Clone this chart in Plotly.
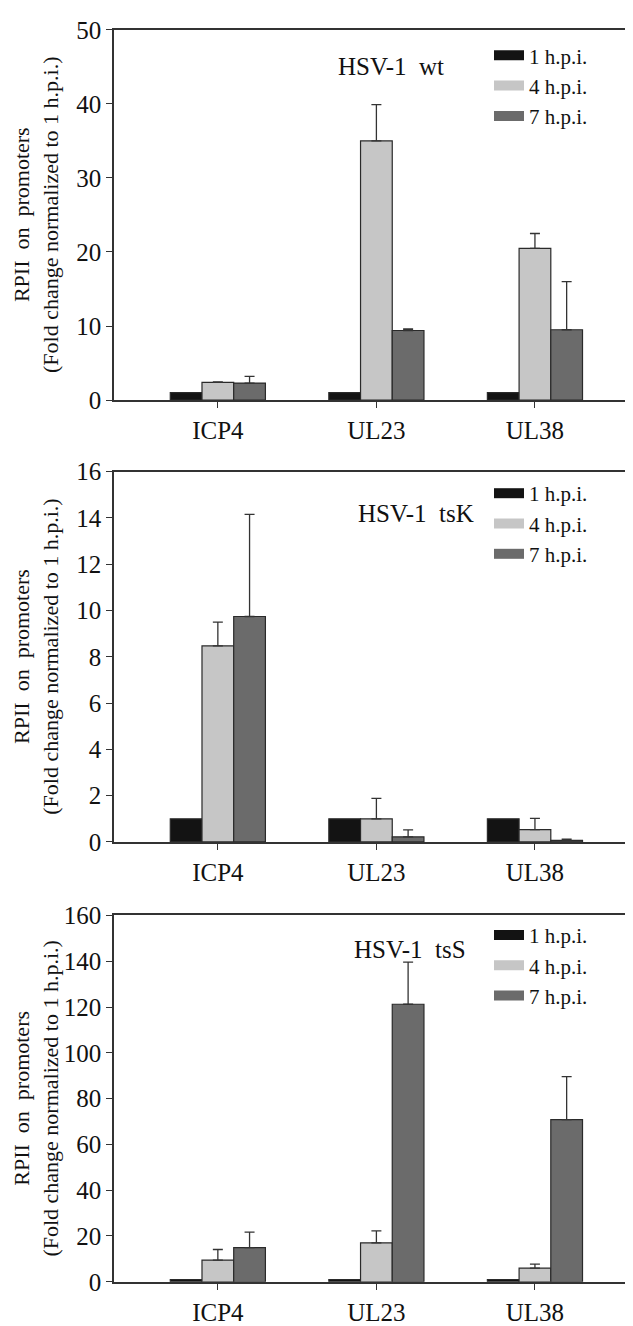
import plotly.graph_objects as go
from plotly.subplots import make_subplots

genes = ["ICP4", "UL23", "UL38"]
series = ["1 h.p.i.", "4 h.p.i.", "7 h.p.i."]
colors = ["#131313", "#c6c6c6", "#6b6b6b"]

# panel 1: HSV-1 wt
wt_1 = [1.0, 1.0, 1.0]
wt_4 = [2.4, 35.0, 20.5]
wt_7 = [2.3, 9.4, 9.5]
wt_4_err = [0.05, 4.9, 2.0]
wt_7_err = [0.9, 0.2, 6.5]

# panel 2: HSV-1 tsK
tsk_1 = [1.0, 1.0, 1.0]
tsk_4 = [8.47, 1.0, 0.53]
tsk_7 = [9.74, 0.22, 0.07]
tsk_4_err = [1.03, 0.88, 0.49]
tsk_7_err = [4.41, 0.3, 0.05]

# panel 3: HSV-1 tsS
tss_1 = [1.0, 1.0, 1.0]
tss_4 = [9.5, 17.0, 6.0]
tss_7 = [14.9, 121.2, 70.8]
tss_4_err = [4.6, 5.2, 1.7]
tss_7_err = [6.8, 18.4, 18.8]

panel_titles = ["HSV-1  wt", "HSV-1  tsK", "HSV-1  tsS"]
y_ranges = [[0, 50], [0, 16], [0, 160]]
y_dticks = [10, 2, 20]
y_title = "RPII  on  promoters<br>(Fold change normalized to 1 h.p.i.)"

panels = [
    (wt_1, wt_4, wt_7, None, wt_4_err, wt_7_err),
    (tsk_1, tsk_4, tsk_7, None, tsk_4_err, tsk_7_err),
    (tss_1, tss_4, tss_7, None, tss_4_err, tss_7_err),
]

FONT = "Liberation Serif"
INK = "#111111"
W, H = 633, 1326
L = 106
R = W - 630


def py(page_y):
    return 1 - page_y / H


def px(page_x):
    return (page_x - L) / (W - L - R)


fig = make_subplots(rows=3, cols=1)
domains = [[py(387), py(9)], [py(838), py(460)], [py(1287), py(913)]]
legend_names = ["legend", "legend2", "legend3"]
legend_mid = [py(66), py(513), py(964)]
title_pos = [(px(383), py(46)), (px(408), py(503)), (px(402), py(948))]

for p, (v1, v4, v7, e1, e4, e7) in enumerate(panels):
    vals = [v1, v4, v7]
    errs = [e1, e4, e7]
    for s in range(3):
        err = None
        if errs[s] is not None:
            err = dict(type="data", array=errs[s], arrayminus=[0] * 3,
                       symmetric=False, color="#333333", thickness=1.3, width=5)
        fig.add_trace(go.Bar(
            x=genes, y=vals[s], name=series[s], showlegend=False,
            marker=dict(color=colors[s], line=dict(color="#2a2a2a", width=1.2)),
            error_y=err, offsetgroup=str(s),
        ), row=p + 1, col=1)
    # legend proxies (wide swatches)
    for s in range(3):
        fig.add_trace(go.Scatter(
            x=[None], y=[None], mode="lines", name=series[s],
            line=dict(color=colors[s], width=11), legend=legend_names[p],
            showlegend=True, hoverinfo="skip",
        ), row=p + 1, col=1)

    yname = "yaxis" if p == 0 else f"yaxis{p+1}"
    xname = "xaxis" if p == 0 else f"xaxis{p+1}"
    fig.layout[yname].update(
        domain=domains[p], range=y_ranges[p], dtick=y_dticks[p],
        showline=True, linecolor="#333333", linewidth=1.5, mirror=True,
        ticks="outside", ticklen=6, tickcolor="#333333", tickwidth=1.3,
        showgrid=False, zeroline=False,
        tickfont=dict(family=FONT, size=25, color=INK),
    )
    fig.layout[xname].update(
        range=[-0.655, 2.65], showline=True, linecolor="#333333", linewidth=1.5,
        mirror=True, ticks="outside", ticklen=6, tickcolor="#333333", tickwidth=1.3,
        showgrid=False, tickfont=dict(family=FONT, size=25, color=INK),
        ticklabelstandoff=1,
    )
    fig.layout[legend_names[p]] = dict(
        x=px(481), y=legend_mid[p], xanchor="left", yanchor="middle",
        bgcolor="rgba(0,0,0,0)", font=dict(family=FONT, size=21, color=INK),
        tracegroupgap=0, itemwidth=30,
    )
    fig.add_annotation(text=panel_titles[p], xref="paper", yref="paper",
                       x=title_pos[p][0], y=title_pos[p][1], showarrow=False,
                       xanchor="center", yanchor="middle",
                       font=dict(family=FONT, size=25, color=INK))
    fig.add_annotation(text=y_title, xref="paper", yref="paper",
                       x=px(28), y=(domains[p][0] + domains[p][1]) / 2,
                       xanchor="center", yanchor="middle",
                       textangle=-90, showarrow=False,
                       font=dict(family=FONT, size=22, color=INK))

fig.update_layout(
    width=W, height=H, barmode="group", bargap=0.4, bargroupgap=0,
    plot_bgcolor="white", paper_bgcolor="white",
    margin=dict(l=L, r=R, t=0, b=0), showlegend=True,
)
fig.write_html("out.html")
